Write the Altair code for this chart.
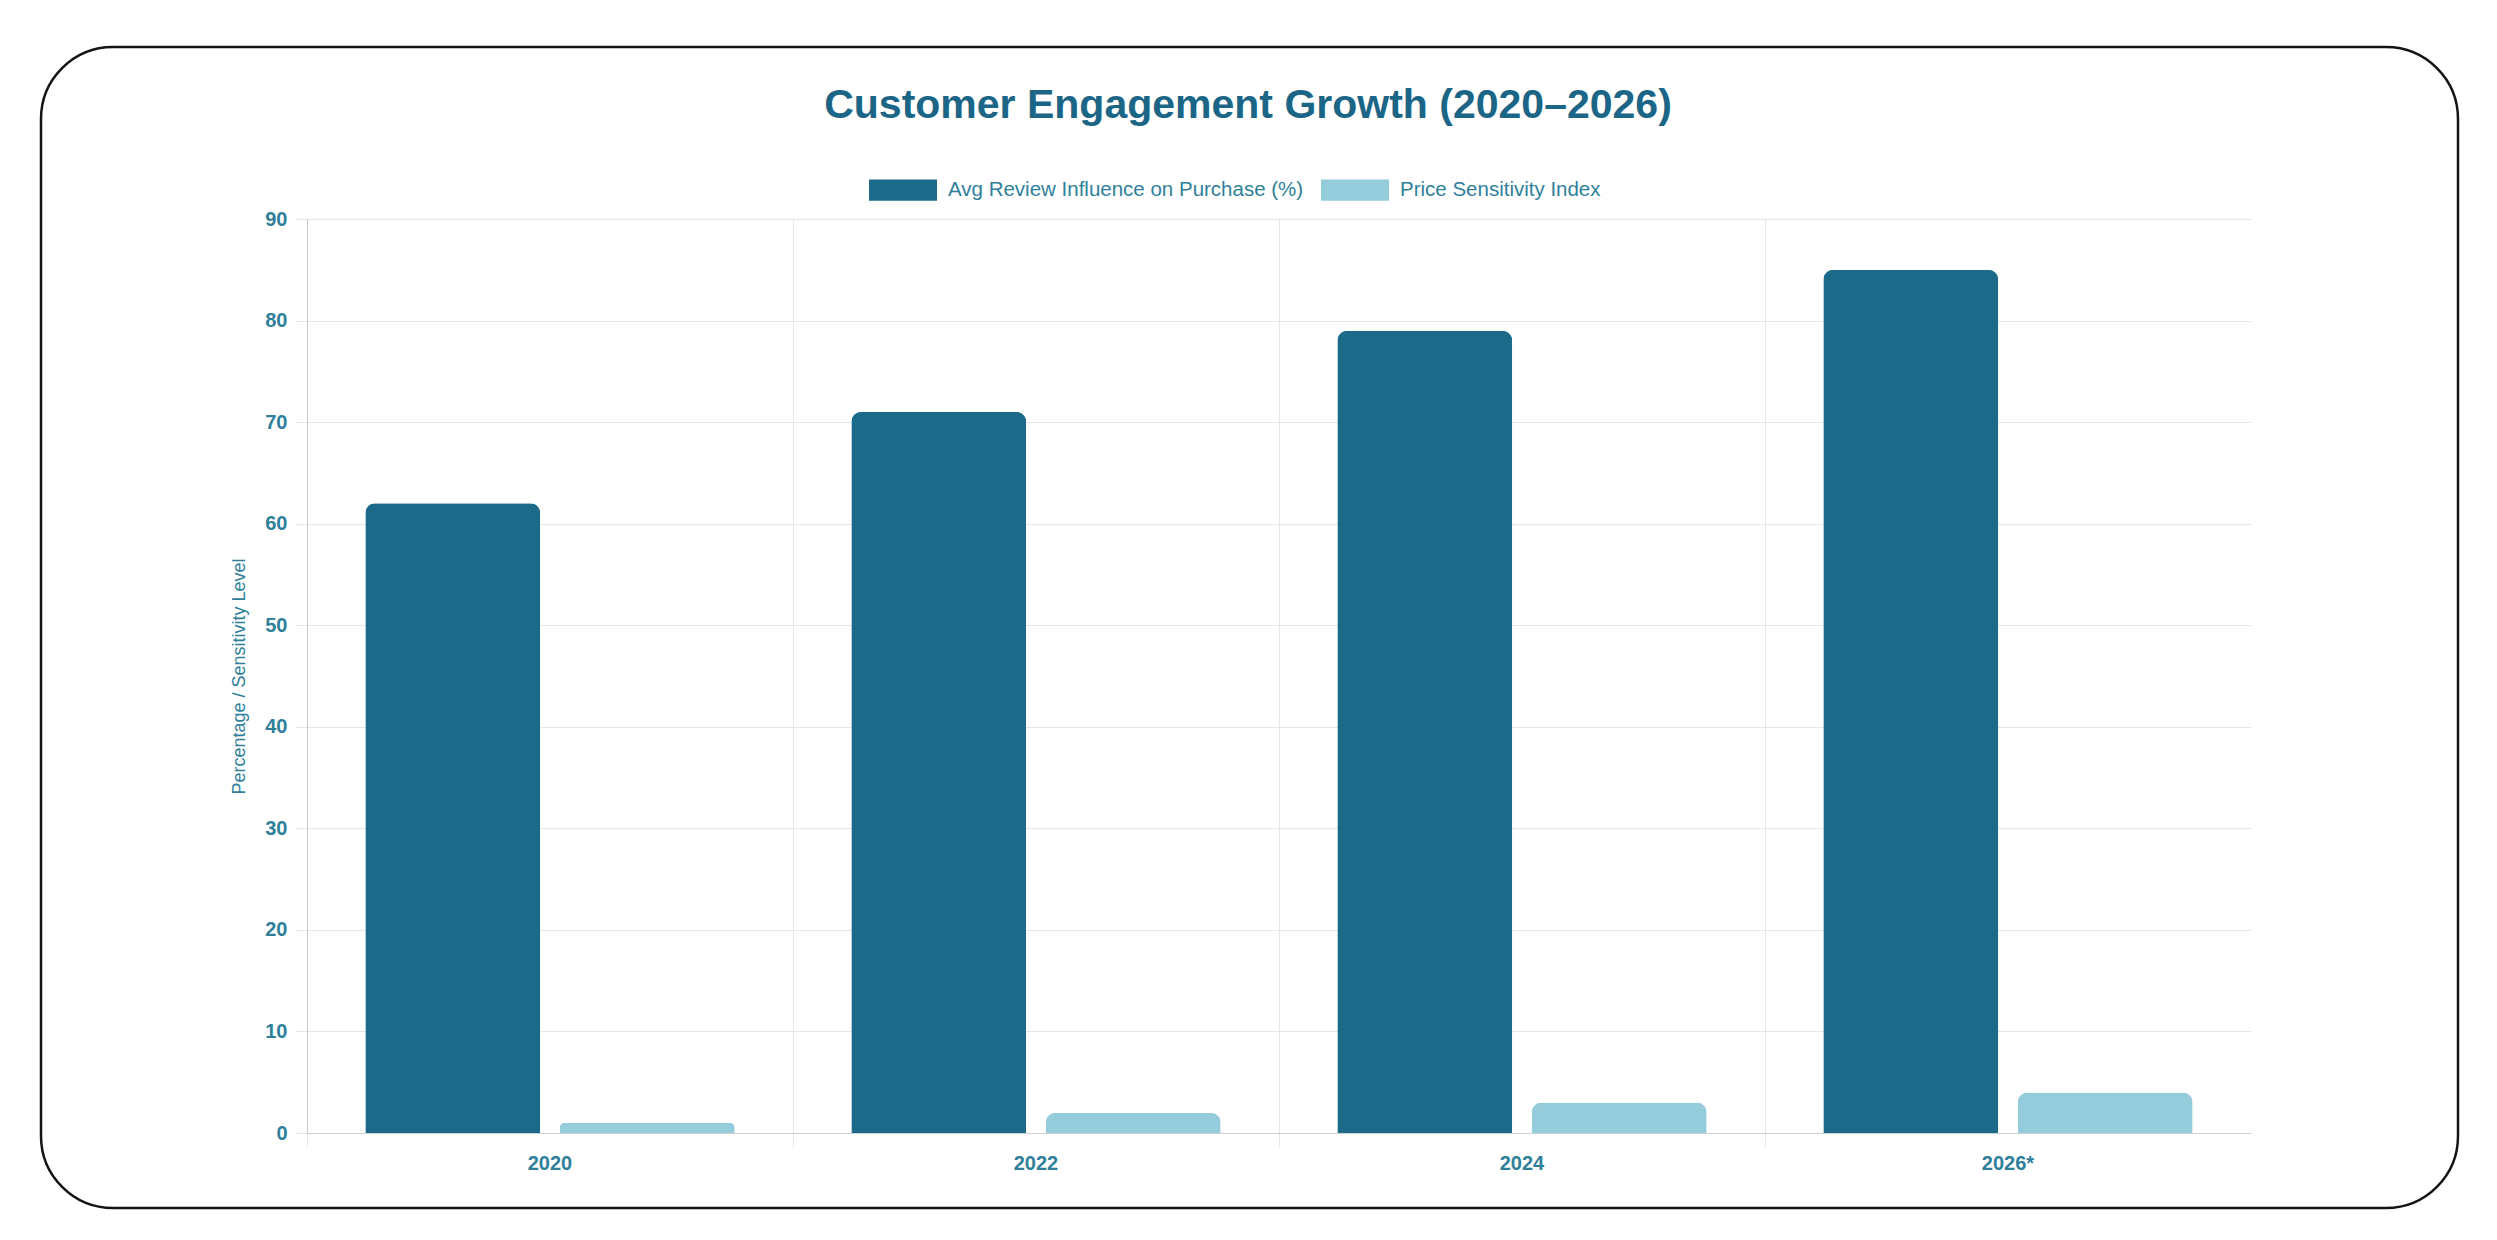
import pandas as pd
import altair as alt

# data
years = ['2020', '2022', '2024', '2026*']
review_influence = [62, 71, 79, 85]
price_sensitivity = [1, 2, 3, 4]
series = ['Avg Review Influence on Purchase (%)', 'Price Sensitivity Index']
colors = ['#1b6a89', '#94ccdb']

rows = []
for i, y in enumerate(years):
    rows.append({'year': y, 'series': series[0], 'value': review_influence[i]})
    rows.append({'year': y, 'series': series[1], 'value': price_sensitivity[i]})
df = pd.DataFrame(rows)

FONT = 'Liberation Sans, Arial, Helvetica, sans-serif'
TEAL = '#1b6586'
LABEL = '#2f7f9b'

# rounded frame around the whole card
frame = alt.Chart(pd.DataFrame({'k': [0]})).mark_rect(
    cornerRadius=72, fillOpacity=0, stroke='#141414', strokeWidth=2.5
).encode(
    x=alt.value(-266), x2=alt.value(2151),
    y=alt.value(-172), y2=alt.value(989)
)

bars = alt.Chart(df).mark_bar(
    cornerRadiusTopLeft=10, cornerRadiusTopRight=10
).encode(
    x=alt.X('year:N', sort=years,
            scale=alt.Scale(paddingInner=0, paddingOuter=0),
            axis=alt.Axis(title=None, labelAngle=0, bandPosition=0, grid=True,
                          gridColor='#e6e6e6', tickColor='#e6e6e6', tickSize=14,
                          domainColor='#d0d0d0', labelFontSize=20, labelColor=LABEL,
                          labelFont=FONT, labelFontWeight='bold', labelPadding=6)),
    xOffset=alt.XOffset('series:N', sort=series,
                        scale=alt.Scale(paddingInner=0.1, paddingOuter=0.3)),
    y=alt.Y('value:Q', scale=alt.Scale(domain=[0, 90], nice=False),
            axis=alt.Axis(values=list(range(0, 91, 10)),
                          title='Percentage / Sensitivity Level',
                          titleFontSize=18, titleFontWeight='normal', titleColor=LABEL,
                          titleFont=FONT, titlePadding=16,
                          gridColor='#e6e6e6', tickColor='#e6e6e6', tickSize=12,
                          domainColor='#c8c8c8', labelFontSize=20, labelColor=LABEL,
                          labelFont=FONT, labelFontWeight='bold', labelPadding=8)),
    color=alt.Color('series:N', sort=series,
                    scale=alt.Scale(domain=series, range=colors),
                    legend=alt.Legend(title=None, orient='none', legendX=562, legendY=-63,
                                      direction='horizontal',
                                      symbolType='M-1,-0.3125H1V0.3125H-1Z',
                                      symbolSize=4624, symbolStrokeWidth=0, symbolOpacity=1,
                                      labelFontSize=20.5, labelColor=LABEL, labelFont=FONT,
                                      labelLimit=0, labelOffset=11, columnPadding=17,
                                      padding=0))
)

chart = alt.layer(frame, bars).properties(
    width=1944, height=914,
    padding={'left': 31, 'top': 37, 'right': 0, 'bottom': 0},
    title=alt.TitleParams('Customer Engagement Growth (2020–2026)', fontSize=41,
                          font=FONT, fontWeight='bold', color=TEAL,
                          anchor='middle', dx=-31, offset=-81)
).configure_view(stroke=None)

chart.save("out.html", embed_options={"renderer": "svg", "actions": False})
